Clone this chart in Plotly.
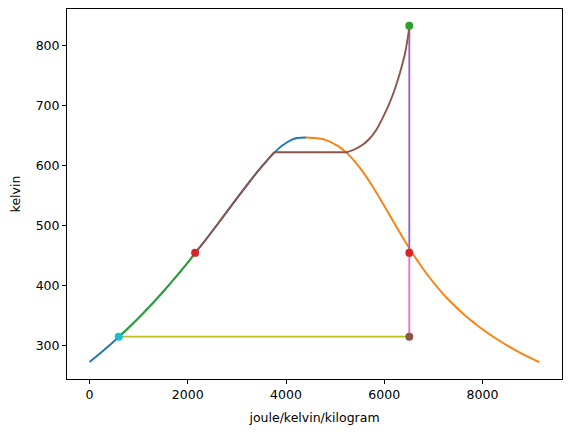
import plotly.graph_objects as go

# saturation dome of water, entropy in J/(kg K), temperature in K
sat_liq_s = [0, 151, 296.5, 436.8, 572.4, 703.8, 831.3, 955.1, 1075.6, 1192.9, 1307.2,
             1527.9, 1739.2, 1942.6, 2139.2, 2330.5, 2517.7, 2702.0, 2884.9, 3068.5,
             3255.2, 3449.4, 3660.1, 3778.4, 3916.7, 4110.8, 4230, 4407]
sat_liq_T = [273.16, 283.15, 293.15, 303.15, 313.15, 323.15, 333.15, 343.15, 353.15, 363.15, 373.15,
             393.15, 413.15, 433.15, 453.15, 473.15, 493.15, 513.15, 533.15, 553.15,
             573.15, 593.15, 613.15, 623.15, 633.15, 643.15, 646.15, 647.1]
sat_vap_s = [4407, 4600, 4799.6, 5053.6, 5211.7, 5335.7, 5536.2, 5704.5, 5857.1, 6001.9,
             6143.7, 6286.1, 6432.2, 6585.7, 6750.2, 6929.9, 7129.6, 7354.9, 7612.2,
             7908.5, 8257.0, 8666.1, 8899.9, 9155.5]
sat_vap_T = [647.1, 646.15, 643.15, 633.15, 623.15, 613.15, 593.15, 573.15, 553.15, 533.15,
             513.15, 493.15, 473.15, 453.15, 433.15, 413.15, 393.15, 373.15, 353.15,
             333.15, 313.15, 293.15, 283.15, 273.16]

# feedwater heating, along the liquid line
heat_s = [595, 703.8, 831.3, 955.1, 1075.6, 1192.9, 1307.2, 1527.9, 1739.2, 1942.6, 2139.2, 2150]
heat_T = [315.5, 323.15, 333.15, 343.15, 353.15, 363.15, 373.15, 393.15, 413.15, 433.15, 453.15, 455]

# boiler: liquid heating, boiling, superheating
boil_liq_s = [2150, 2330.5, 2517.7, 2702.0, 2884.9, 3068.5, 3255.2, 3449.4, 3660.1, 3760]
boil_liq_T = [455, 473.15, 493.15, 513.15, 533.15, 553.15, 573.15, 593.15, 613.15, 622.5]
boil_flat_s = [3760, 5240]
boil_flat_T = [622.5, 622.5]
superheat_s = [5240, 5400, 5560, 5700, 5840, 5988, 6100, 6191, 6280, 6361, 6420, 6463, 6490, 6510]
superheat_T = [622.5, 627.5, 635, 645, 660, 683, 703, 722, 744, 767, 786, 805, 819, 833]

# turbine stages and condenser
turb_hp_s = [6510, 6510]
turb_hp_T = [833, 455]
turb_lp_s = [6510, 6510]
turb_lp_T = [455, 315.5]
cond_s = [6510, 595]
cond_T = [315.5, 315.5]

# state points
state_s = [595, 2150, 6510, 6510, 6510]
state_T = [315.5, 455, 833, 455, 315.5]
state_colors = ["#17becf", "#d62728", "#2ca02c", "#d62728", "#8c564b"]

LW = 1.9


def line(xs, ys, color, shape="linear", smoothing=0.8):
    return go.Scatter(x=xs, y=ys, mode="lines", showlegend=False, hoverinfo="skip",
                      line={"color": color, "width": LW, "shape": shape, "smoothing": smoothing})


fig = go.Figure()
fig.add_trace(line(sat_liq_s, sat_liq_T, "#1f77b4", "spline"))
fig.add_trace(line(sat_vap_s, sat_vap_T, "#ff7f0e", "spline"))
fig.add_trace(line(heat_s, heat_T, "#2ca02c", "spline"))
fig.add_trace(line(turb_hp_s, turb_hp_T, "#9467bd"))
fig.add_trace(line(boil_liq_s, boil_liq_T, "#8c564b", "spline"))
fig.add_trace(line(boil_flat_s, boil_flat_T, "#8c564b"))
fig.add_trace(line(superheat_s, superheat_T, "#8c564b", "spline", 0.6))
fig.add_trace(line(turb_lp_s, turb_lp_T, "#e377c2"))
fig.add_trace(line(cond_s, cond_T, "#bcbd22"))
fig.add_trace(go.Scatter(x=state_s, y=state_T, mode="markers", showlegend=False,
                         marker={"color": state_colors, "size": 8, "line": {"width": 0}}))

axis_common = dict(
    showgrid=False, zeroline=False, showline=True, linecolor="black", linewidth=1,
    mirror=True, ticks="outside", ticklen=4, tickwidth=1, tickcolor="black",
    tickfont={"size": 12.5, "color": "black"}, automargin=False,
)
# the page body adds an 8px offset, so the figure is 8px smaller than the window
fig.update_layout(
    width=563, height=424,
    margin={"l": 59, "r": 9, "t": 1, "b": 53, "autoexpand": False},
    plot_bgcolor="white", paper_bgcolor="white",
    font={"family": "DejaVu Sans", "size": 12.5, "color": "black"},
    xaxis={**axis_common, "range": [-458, 9618], "tickvals": [0, 2000, 4000, 6000, 8000],
           "title": {"text": "joule/kelvin/kilogram", "standoff": 12, "font": {"size": 12.5}}},
    yaxis={**axis_common, "range": [245, 861], "tickvals": [300, 400, 500, 600, 700, 800],
           "title": {"text": "kelvin", "standoff": 14, "font": {"size": 12.5}}},
)
fig.write_html("out.html")
